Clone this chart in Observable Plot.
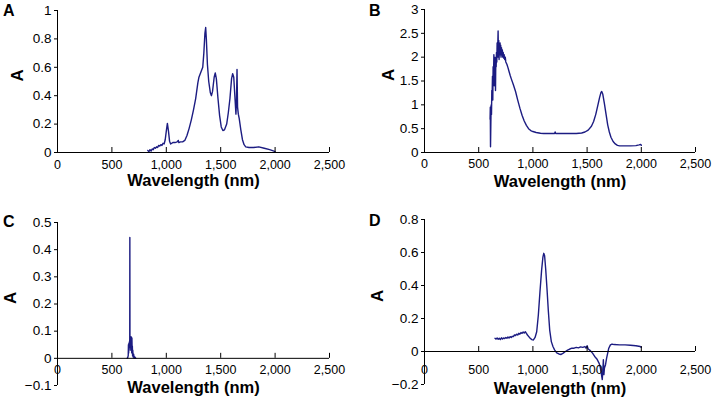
<!DOCTYPE html>
<html><head><meta charset="utf-8">
<script src="https://cdn.jsdelivr.net/npm/d3@7"></script>
<script src="https://cdn.jsdelivr.net/npm/@observablehq/plot@0.6"></script>
<style>
body{margin:0;background:#fff;}
#chart{position:relative;width:712px;height:401px;font-family:"Liberation Sans",Arial,sans-serif;color:#000;}
.panel{position:absolute;}
.letter{position:absolute;font-weight:bold;font-size:16px;line-height:17px;}
</style></head><body><div id="chart"></div>
<script>
// ---- data ----
const xTicks = [0, 500, 1000, 1500, 2000, 2500];
const yTicksA = [0, 0.2, 0.4, 0.6, 0.8, 1];
const yTicksB = [0, 0.5, 1, 1.5, 2, 2.5, 3];
const yTicksC = [-0.1, 0, 0.1, 0.2, 0.3, 0.4, 0.5];
const yTicksD = [-0.2, 0, 0.2, 0.4, 0.6, 0.8];
const panelLetters = ["A", "B", "C", "D"];
const xLabel = "Wavelength (nm)";
const yLabel = "A";

const specA = [[830,0.015],[840,0.005],[850,0.02],[860,0.01],[870,0.025],[880,0.02],[890,0.035],[900,0.03],[910,0.04],[920,0.035],[930,0.05],[940,0.045],[950,0.055],[960,0.05],[970,0.065],[980,0.06],[990,0.09],[1000,0.15],[1010,0.205],[1020,0.15],[1030,0.08],[1040,0.06],[1050,0.065],[1060,0.07],[1080,0.07],[1100,0.075],[1110,0.085],[1115,0.07],[1130,0.075],[1150,0.075],[1170,0.085],[1190,0.12],[1210,0.17],[1230,0.23],[1250,0.3],[1270,0.38],[1290,0.49],[1300,0.53],[1320,0.57],[1335,0.6],[1345,0.7],[1355,0.84],[1362,0.88],[1368,0.8],[1378,0.62],[1390,0.5],[1405,0.42],[1415,0.4],[1425,0.43],[1440,0.53],[1450,0.56],[1460,0.52],[1475,0.38],[1490,0.26],[1505,0.18],[1520,0.155],[1535,0.16],[1555,0.2],[1570,0.28],[1585,0.38],[1600,0.52],[1610,0.555],[1620,0.53],[1630,0.4],[1640,0.27],[1645,0.36],[1650,0.585],[1655,0.32],[1662,0.27],[1670,0.24],[1685,0.16],[1700,0.09],[1715,0.055],[1730,0.04],[1760,0.035],[1800,0.035],[1850,0.04],[1900,0.03],[1950,0.02],[1990,0.01],[2000,0.005]];

const specB = [[605,0.7],[607,0.95],[609,0.12],[612,0.6],[615,1.0],[618,0.8],[621,1.3],[624,1.2],[627,1.6],[630,1.1],[633,1.8],[636,1.5],[640,2.05],[643,1.4],[646,2.0],[649,1.6],[652,1.9],[655,1.3],[658,2.0],[661,1.8],[664,2.1],[667,1.9],[670,2.3],[673,2.0],[676,2.25],[679,2.55],[682,2.0],[685,2.35],[688,1.95],[691,2.3],[694,2.1],[697,2.3],[700,2.05],[703,2.25],[706,2.0],[710,2.2],[714,2.05],[718,2.15],[722,2.0],[726,2.1],[730,1.98],[735,2.05],[740,1.95],[745,2.0],[750,1.9],[760,1.85],[770,1.78],[780,1.7],[790,1.62],[800,1.55],[820,1.42],[840,1.28],[860,1.1],[880,0.93],[900,0.78],[920,0.66],[940,0.57],[960,0.5],[980,0.46],[1000,0.44],[1030,0.42],[1070,0.405],[1100,0.4],[1150,0.4],[1200,0.4],[1205,0.43],[1210,0.4],[1300,0.4],[1400,0.4],[1450,0.41],[1480,0.43],[1510,0.47],[1540,0.55],[1560,0.65],[1580,0.8],[1600,1.0],[1615,1.15],[1628,1.26],[1635,1.28],[1645,1.22],[1660,1.02],[1675,0.8],[1690,0.58],[1705,0.43],[1720,0.32],[1740,0.23],[1760,0.18],[1780,0.15],[1800,0.14],[1850,0.14],[1900,0.14],[1950,0.145],[1980,0.16],[1995,0.17],[2000,0.15]];

const specC = [[640,0],[645,0.002],[650,0.01],[652,0.05],[654,0.02],[656,0.055],[658,0.03],[660,0.06],[662,0.04],[664,0.07],[665,0.445],[666,0.05],[668,0.08],[670,0.04],[672,0.065],[674,0.03],[676,0.08],[678,0.05],[680,0.06],[682,0.02],[684,0.075],[686,0.03],[688,0.045],[690,0.01],[692,0.03],[695,0.005],[700,0.015],[705,0],[710,0.005],[720,0]];

const specD = [[650,0.08],[660,0.075],[670,0.082],[680,0.074],[690,0.08],[700,0.072],[710,0.083],[720,0.076],[730,0.082],[740,0.078],[750,0.085],[760,0.08],[770,0.088],[780,0.082],[790,0.09],[800,0.085],[810,0.092],[820,0.09],[830,0.1],[840,0.097],[850,0.105],[860,0.1],[870,0.11],[880,0.105],[890,0.115],[900,0.11],[910,0.118],[920,0.112],[930,0.12],[940,0.11],[950,0.1],[960,0.092],[975,0.08],[990,0.072],[1005,0.07],[1020,0.085],[1035,0.12],[1050,0.22],[1065,0.36],[1080,0.49],[1092,0.57],[1100,0.595],[1108,0.58],[1118,0.5],[1130,0.38],[1142,0.25],[1155,0.13],[1170,0.06],[1185,0.03],[1200,0.01],[1220,-0.008],[1240,-0.015],[1260,-0.018],[1280,-0.01],[1300,0],[1320,0.008],[1340,0.015],[1360,0.02],[1380,0.02],[1400,0.025],[1420,0.022],[1440,0.028],[1460,0.025],[1480,0.03],[1490,0.02],[1500,0.035],[1510,0.015],[1530,0.005],[1550,-0.01],[1570,-0.03],[1590,-0.045],[1610,-0.07],[1620,-0.09],[1630,-0.13],[1640,-0.17],[1645,-0.12],[1650,-0.05],[1655,-0.14],[1660,-0.1],[1670,-0.08],[1680,-0.04],[1690,-0.01],[1700,0.02],[1715,0.04],[1730,0.045],[1750,0.042],[1800,0.04],[1850,0.04],[1900,0.038],[1950,0.035],[1990,0.03],[2000,0.025]];

// ---- layout ----
const FONT = '"Liberation Sans", Arial, sans-serif';
const LINE = "#1c1c82";
const panels = [
  {data: specA, yDomain: [0, 1], yTicks: yTicksA, left: 0, top: 0, h: 200, mL: 57, mR: 27, mT: 10, mB: 48, tickDy: 12, xlDy: 33, ylDx: -40, letter: {x: 3, y: 2}},
  {data: specB, yDomain: [0, 3], yTicks: yTicksB, left: 356, top: 0, h: 200, mL: 68, mR: 17, mT: 9, mB: 48, tickDy: 11, xlDy: 34, ylDx: -36, letter: {x: 13, y: 2}},
  {data: specC, yDomain: [-0.1, 0.5], yTicks: yTicksC, left: 0, top: 200, h: 201, mL: 57, mR: 27, mT: 22, mB: 16, tickDy: 12, xlDy: 7, ylDx: -47, letter: {x: 3, y: 13}},
  {data: specD, yDomain: [-0.2, 0.8], yTicks: yTicksD, left: 356, top: 200, h: 201, mL: 68, mR: 17, mT: 19, mB: 17, tickDy: 18, xlDy: 9, ylDx: -47, letter: {x: 13, y: 12}}
];

const chart = document.getElementById("chart");
const yFmt = d => d3.format("~g")(d);
const xFmt = d3.format(",");

panels.forEach((p, i) => {
  const svg = Plot.plot({
    width: 356, height: p.h,
    marginLeft: p.mL, marginRight: p.mR, marginTop: p.mT, marginBottom: p.mB,
    style: {fontFamily: FONT, fontSize: "13px", color: "#000", background: "transparent", overflow: "visible"},
    x: {domain: [0, 2500], axis: null},
    y: {domain: p.yDomain},
    marks: [
      Plot.axisY(p.yTicks, {tickSize: 3, tickPadding: 3, tickFormat: yFmt, label: null, fontSize: 13.5}),
      Plot.ruleX([0], {stroke: "#000"}),
      Plot.line(p.data, {x: d => d[0], y: d => d[1], stroke: LINE, strokeWidth: 1.4}),
      Plot.ruleY([0], {stroke: "#000"}),
      Plot.ruleX(xTicks, {x: d => d, y1: 0, y2: 0, insetBottom: 5, stroke: "#000"}),
      Plot.text(xTicks, {x: d => d, y: 0, dy: p.tickDy, text: d => xFmt(d), fontSize: 12.5, fill: "#000"}),
      Plot.text([xLabel], {frameAnchor: "bottom", dy: p.xlDy, fontWeight: "bold", fontSize: 16.5, fill: "#000"}),
      Plot.text([yLabel], {frameAnchor: "left", dx: p.ylDx, rotate: -90, fontWeight: "bold", fontSize: 17, fill: "#000"})
    ]
  });
  const wrap = document.createElement("div");
  wrap.className = "panel";
  wrap.style.left = p.left + "px";
  wrap.style.top = p.top + "px";
  wrap.appendChild(svg);
  chart.appendChild(wrap);
  const L = document.createElement("div");
  L.className = "letter";
  L.textContent = panelLetters[i];
  L.style.left = (p.left + p.letter.x) + "px";
  L.style.top = (p.top + p.letter.y) + "px";
  chart.appendChild(L);
});
</script></body></html>
